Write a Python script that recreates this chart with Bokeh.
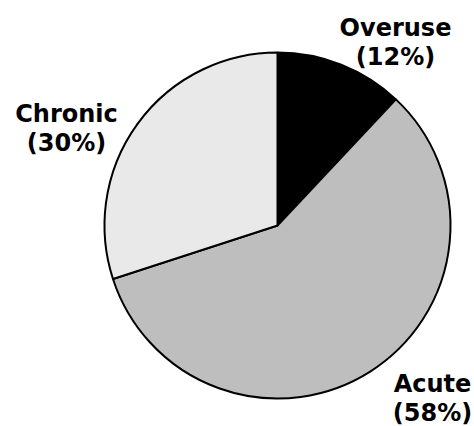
import numpy as np
from bokeh.plotting import figure
from bokeh.models import Range1d, ColumnDataSource
from bokeh.core.properties import value
from bokeh.embed import file_html
from bokeh.resources import INLINE

# data
categories = ["Overuse", "Acute", "Chronic"]
percents = [12, 58, 30]
colors = ["#000000", "#bebebe", "#e9e9e9"]

# layout (page pixel coordinates; y flipped via negative values)
cx, cy, r = 277, 225, 173
label_x = [395, 432, 66]
label_y = [27, 383, 113]
line_gap = 29

frac = np.array(percents, dtype=float) / sum(percents)
cum = np.concatenate([[0], np.cumsum(frac)]) * 2 * np.pi  # clockwise from top
start = np.pi / 2 - cum[1:]
end = np.pi / 2 - cum[:-1]

src = ColumnDataSource(dict(cat=categories, pct=percents, start=start, end=end, color=colors))

p = figure(width=474, height=426, output_backend="svg", toolbar_location=None,
           x_range=Range1d(0, 474), y_range=Range1d(-426, 0), min_border=0)
p.axis.visible = False
p.grid.visible = False
p.outline_line_color = None
p.background_fill_color = "white"

p.wedge(x=cx, y=-cy, radius=r, start_angle="start", end_angle="end", direction="anticlock",
        fill_color="color", line_color="black", line_width=2, source=src)

name_src = ColumnDataSource(dict(x=label_x, y=[-v for v in label_y], t=categories))
pct_src = ColumnDataSource(dict(x=label_x, y=[-(v + line_gap) for v in label_y],
                                t=[f"({v}%)" for v in percents]))
for s in (name_src, pct_src):
    p.text(x="x", y="y", text="t", source=s, text_align="center", text_baseline="alphabetic",
           text_font=value("DejaVu Sans"), text_font_style="bold", text_font_size="24px",
           text_color="black")

open("out.html", "w").write(file_html(p, INLINE))
